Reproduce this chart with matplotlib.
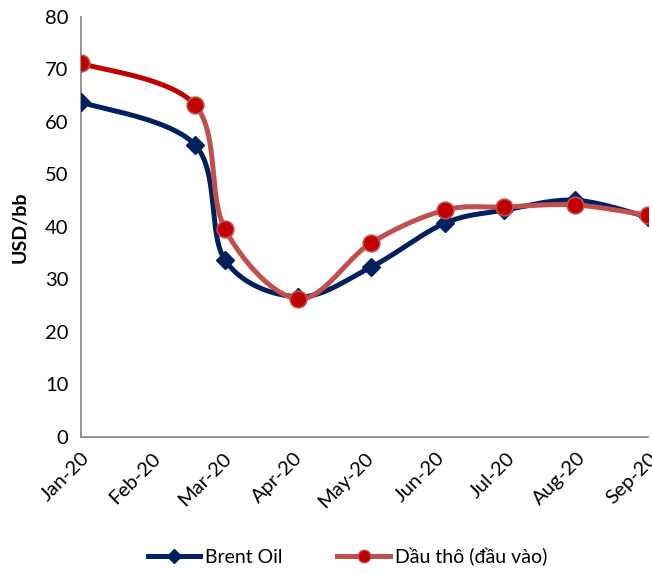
import numpy as np
import pandas as pd
import matplotlib
matplotlib.use("Agg")
import matplotlib.pyplot as plt
from matplotlib.lines import Line2D

plt.rcParams['font.family'] = ['Lato', 'DejaVu Sans']

# Observation dates and prices (USD per barrel)
dates = ["2020-01-01", "2020-02-20", "2020-03-04", "2020-04-05", "2020-05-07",
         "2020-06-08", "2020-07-04", "2020-08-04", "2020-09-05"]
brent = [63.8, 55.6, 33.7, 26.7, 32.4, 40.7, 43.2, 45.1, 41.9]
crude_input = [71.2, 63.2, 39.6, 26.3, 37.0, 43.2, 43.8, 44.2, 42.2]

# Axis ticks every 31 days from the start date
tick_dates = ["2020-01-01", "2020-02-01", "2020-03-03", "2020-04-03", "2020-05-04",
              "2020-06-04", "2020-07-05", "2020-08-05", "2020-09-05"]
tick_labels = ["Jan-20", "Feb-20", "Mar-20", "Apr-20", "May-20",
               "Jun-20", "Jul-20", "Aug-20", "Sep-20"]
y_ticks = [0, 10, 20, 30, 40, 50, 60, 70, 80]

series_names = ["Brent Oil", "Dầu thô (đầu vào)"]

start = pd.Timestamp(dates[0])
x = np.array([(pd.Timestamp(d) - start).days for d in dates], dtype=float)
xt = np.array([(pd.Timestamp(d) - start).days for d in tick_dates], dtype=float)

fig = plt.figure(figsize=(6.52, 5.74), dpi=100)
ax = fig.add_axes([0.1242, 0.2387, 0.8697, 0.7317])
ax.set_xlim(xt[0], xt[-1])
ax.set_ylim(0, 80)


def smooth(xs, ys, n=40):
    """Bezier smoothing computed in screen space (Catmull-Rom style)."""
    pts = ax.transData.transform(np.column_stack([xs, ys]))
    out = []
    m = len(pts)
    for i in range(m - 1):
        p0 = pts[max(i - 1, 0)]
        p1 = pts[i]
        p2 = pts[i + 1]
        p3 = pts[min(i + 2, m - 1)]
        c1 = p1 + (p2 - p0) / 6.0
        c2 = p2 - (p3 - p1) / 6.0
        t = np.linspace(0, 1, n)[:, None]
        seg = ((1 - t) ** 3) * p1 + 3 * ((1 - t) ** 2) * t * c1 + 3 * (1 - t) * t ** 2 * c2 + t ** 3 * p2
        out.append(seg)
    segs = [ax.transData.inverted().transform(s) for s in out]
    return segs


navy = "#002060"
red_line = "#C0504D"
red_dark = "#C00000"

# Brent Oil
bsegs = smooth(x, brent)
bcurve = np.vstack(bsegs)
ax.plot(bcurve[:, 0], bcurve[:, 1], color=navy, lw=3.6, solid_capstyle='round', zorder=3)
ax.plot(x, brent, linestyle='none', marker='D', markersize=9.5, color=navy,
        markeredgecolor=navy, zorder=4)

# Crude oil input price
rsegs = smooth(x, crude_input)
ax.plot(rsegs[0][:, 0], rsegs[0][:, 1], color=red_dark, lw=3.6, solid_capstyle='round', zorder=5)
rrest = np.vstack(rsegs[1:])
ax.plot(rrest[:, 0], rrest[:, 1], color=red_line, lw=3.6, solid_capstyle='round', zorder=5)
ax.plot(x, crude_input, linestyle='none', marker='o', markersize=12, color=red_dark,
        markeredgecolor=red_line, markeredgewidth=1.2, zorder=6)

# Axes styling
for side in ("top", "right"):
    ax.spines[side].set_visible(False)
for side in ("left", "bottom"):
    ax.spines[side].set_color("#8C8C8C")
    ax.spines[side].set_linewidth(1.3)

ax.set_yticks(y_ticks)
ax.set_xticks(xt)
ax.set_xticklabels(tick_labels, rotation=45, ha='right', rotation_mode='anchor')
ax.tick_params(axis='both', length=0, labelsize=14.5, colors='black')
ax.tick_params(axis='y', pad=9)
ax.tick_params(axis='x', pad=9)
ax.set_ylabel("USD/bb", fontsize=14, fontweight='bold', labelpad=12)

handles = [
    Line2D([0], [0], color=navy, lw=3.6, marker='D', markersize=7, markeredgecolor=navy),
    Line2D([0], [0], color=red_line, lw=3.6, marker='o', markersize=9,
           markerfacecolor=red_dark, markeredgecolor=red_line),
]
fig.legend(handles, series_names, loc='center', bbox_to_anchor=(0.533, 0.03), ncol=2,
           frameon=False, fontsize=14, handlelength=2.7, columnspacing=2.8, handletextpad=0.25)

fig.savefig("out.png", dpi=100, facecolor='white')
